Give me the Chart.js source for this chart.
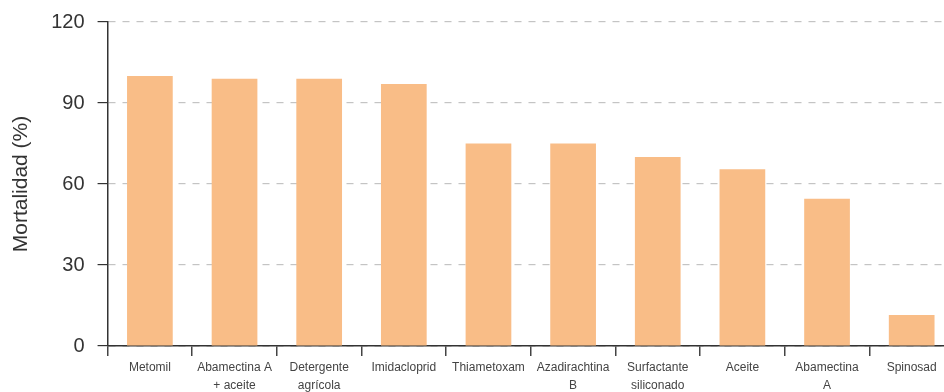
<!DOCTYPE html>
<html>
<head>
<meta charset="utf-8">
<script src="https://cdn.jsdelivr.net/npm/chart.js@4"></script>
<style>
  html, body { margin: 0; padding: 0; background: #fff; overflow: hidden; }
  #wrap { width: 954px; height: 401px; margin-top: -3px; }
</style>
</head>
<body>
<div id="wrap"><canvas id="mortChart" width="954" height="401"></canvas></div>
<script>
// === DATOS ===
const productos = [
  "Metomil", ["Abamectina A", "+ aceite"], ["Detergente", "agrícola"], "Imidacloprid",
  "Thiametoxam", ["Azadirachtina", "B"], ["Surfactante", "siliconado"], "Aceite",
  ["Abamectina", "A"], "Spinosad"
];
const mortalidad = [100, 99, 99, 97, 75, 75, 70, 65.5, 54.5, 11.5];
const yTicks = [0, 30, 60, 90, 120];

const ctx = document.getElementById("mortChart");

new Chart(ctx, {
  type: "bar",
  data: {
    labels: productos,
    datasets: [{
      label: "Mortalidad (%)",
      data: mortalidad,
      backgroundColor: "#F9BD87",
      barPercentage: 0.54,
      categoryPercentage: 1
    }]
  },
  options: {
    responsive: false,
    animation: false,
    layout: { padding: { top: 6, left: 9, right: 0, bottom: 0 } },
    plugins: {
      legend: { display: false },
      tooltip: { enabled: false }
    },
    scales: {
      x: {
        grid: {
          drawOnChartArea: false,
          drawTicks: true,
          tickLength: 10,
          color: "#444",
          lineWidth: 1.5
        },
        border: { color: "#333", width: 1.5 },
        ticks: {
          color: "#444",
          padding: 3,
          maxRotation: 0,
          autoSkip: false,
          font: { family: "'Liberation Sans', sans-serif", size: 12, lineHeight: 1.5 }
        }
      },
      y: {
        min: 0,
        max: 120,
        afterBuildTicks: axis => { axis.ticks = yTicks.map(v => ({ value: v })); },
        grid: {
          color: c => c.tick && c.tick.value === 0 ? "#333" : "#c4c4c4",
          lineWidth: 1.2,
          tickColor: "#333",
          tickLength: 10,
          tickBorderDash: []
        },
        border: { color: "#333", width: 1.5, dash: [7, 7] },
        ticks: {
          color: "#333",
          padding: 13,
          font: { family: "'Liberation Sans', sans-serif", size: 20 }
        },
        title: {
          display: true,
          text: "Mortalidad (%)",
          color: "#333",
          padding: { top: 0, bottom: 4 },
          font: { family: "'Liberation Sans', sans-serif", size: 21 }
        }
      }
    }
  }
});
</script>
</body>
</html>
